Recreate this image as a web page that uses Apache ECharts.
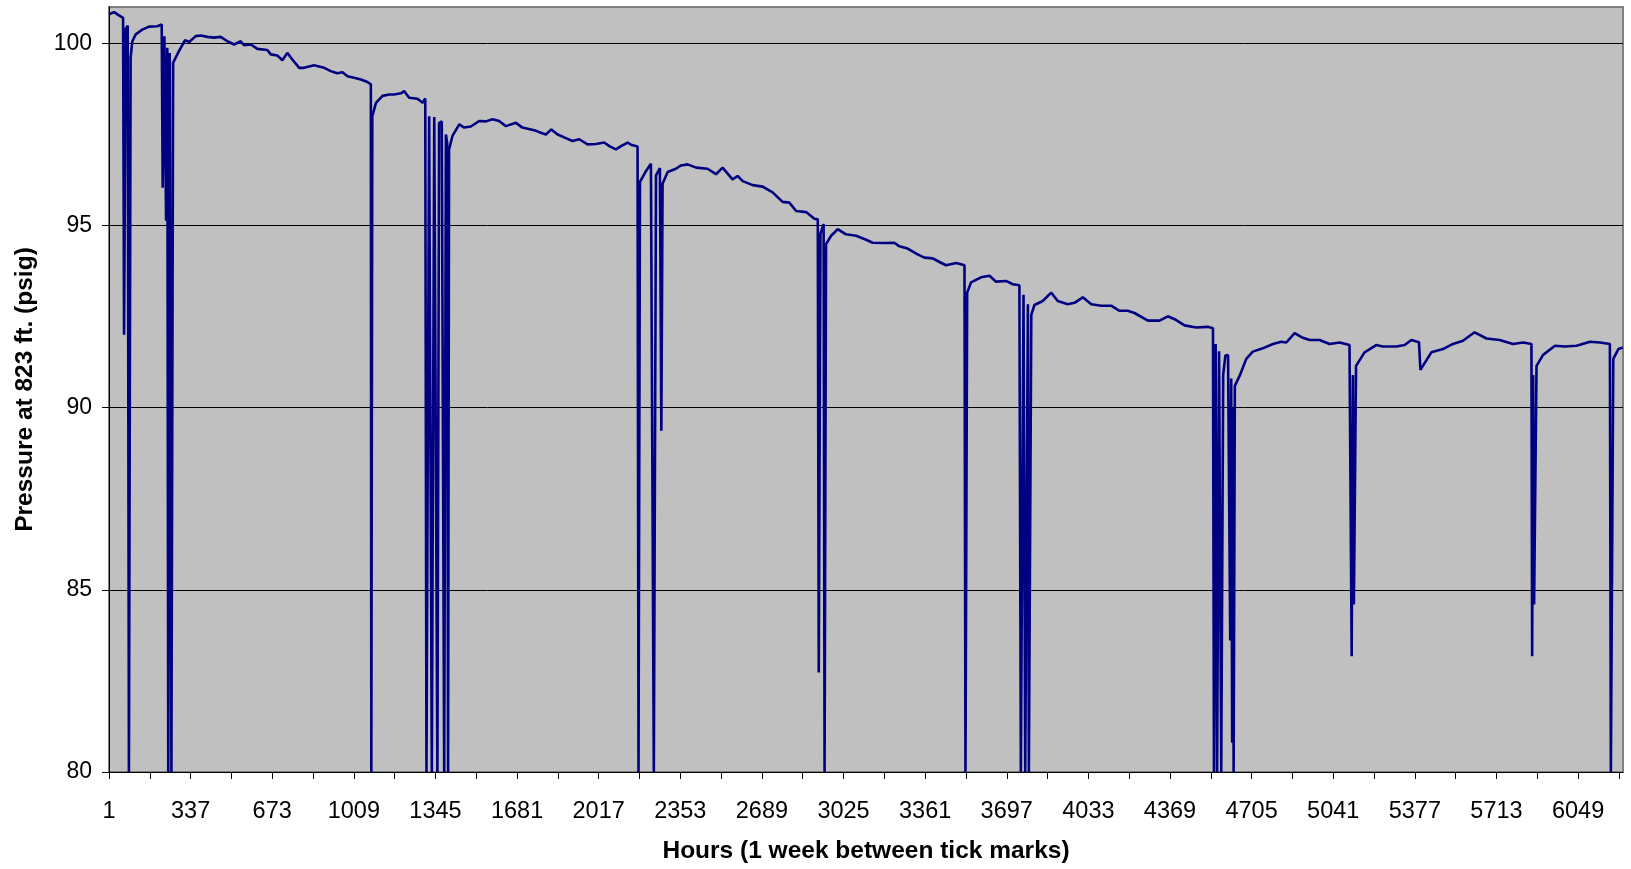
<!DOCTYPE html>
<html><head><meta charset="utf-8">
<script src="https://cdn.jsdelivr.net/npm/echarts@6/dist/echarts.min.js"></script>
<style>html,body{margin:0;padding:0;background:#fff}#c{width:1631px;height:869px}</style>
</head><body><div id="c"></div>
<script>
// [hour, pressure psig] readings, grouped by period
const period1 = [[1,100.80],[22,100.86],[42,100.77],[59,100.70],[63,92.0],[70,100.40],[78,100.49],[83,80],[84,80],[90,99.61],[97,100.06],[111,100.25],[138,100.38],[166,100.46],[200,100.47],[218,100.52],[222,96.04],[229,100.20],[236,95.13],[241,99.88],[245,80],[251,99.74],[258,80],[260,80],[265,99.47],[289,99.79],[314,100.09],[331,100.04],[358,100.20],[379,100.22],[406,100.18],[433,100.16],[461,100.18],[488,100.06],[516,99.97],[543,100.06],[557,99.95],[585,99.97],[612,99.85],[653,99.82],[667,99.70],[694,99.67],[715,99.54],[735,99.74],[756,99.56],[784,99.33],[804,99.33],[845,99.40],[887,99.33],[914,99.24],[941,99.18],[962,99.21],[983,99.10],[1010,99.06],[1038,99.01],[1065,98.94],[1079,98.88],[1081,80],[1082,80]];
const period2 = [[1085,98.00],[1100,98.37],[1127,98.56],[1154,98.60],[1175,98.60],[1203,98.63],[1216,98.69],[1237,98.51],[1271,98.48],[1292,98.37],[1303,98.49],[1308,80],[1319,98.00],[1325,98.03],[1330,80],[1340,97.98],[1348,97.95],[1353,80],[1360,97.82],[1371,97.86],[1381,80],[1388,97.50],[1393,97.28],[1397,80],[1401,97.09],[1415,97.46],[1443,97.78],[1463,97.69],[1491,97.72],[1525,97.87],[1553,97.86],[1580,97.92],[1607,97.87],[1635,97.73],[1676,97.82],[1703,97.69],[1738,97.64],[1759,97.60],[1779,97.55],[1800,97.50],[1822,97.64],[1848,97.50],[1882,97.40],[1909,97.32],[1937,97.37],[1971,97.23],[2006,97.24],[2040,97.28],[2061,97.18],[2088,97.09],[2109,97.18],[2136,97.28],[2150,97.22],[2177,97.17],[2181,80],[2182,80]];
const period3 = [[2187,96.20],[2212,96.50],[2232,96.70],[2240,96.68],[2244,80],[2253,96.38],[2269,96.58],[2275,89.37],[2280,96.15],[2301,96.47],[2335,96.56],[2356,96.65],[2383,96.68],[2418,96.59],[2465,96.56],[2500,96.41],[2527,96.59],[2568,96.27],[2589,96.36],[2610,96.22],[2651,96.11],[2692,96.07],[2733,95.91],[2774,95.65],[2802,95.63],[2830,95.40],[2871,95.37],[2905,95.19],[2919,95.17],[2923,82.73],[2930,94.78],[2943,95.04],[2947,80]];
const period4 = [[2953,94.49],[2974,94.72],[3001,94.90],[3035,94.76],[3077,94.72],[3118,94.61],[3145,94.53],[3193,94.52],[3234,94.53],[3255,94.43],[3289,94.37],[3330,94.21],[3358,94.12],[3392,94.10],[3420,94.00],[3447,93.91],[3489,93.97],[3523,93.91],[3527,80],[3528,80],[3534,93.16],[3550,93.44],[3591,93.58],[3626,93.62],[3653,93.46],[3694,93.48],[3722,93.39],[3749,93.36],[3755,80],[3766,93.10],[3773,80],[3784,92.84],[3788,80]];
const period5 = [[3798,92.55],[3811,92.82],[3845,92.93],[3880,93.16],[3907,92.93],[3948,92.84],[3976,92.88],[4010,93.03],[4045,92.84],[4086,92.80],[4127,92.80],[4161,92.66],[4195,92.66],[4223,92.60],[4278,92.39],[4326,92.39],[4360,92.51],[4388,92.43],[4429,92.26],[4477,92.20],[4525,92.22],[4546,92.18],[4550,80],[4557,91.75],[4563,80],[4571,91.55],[4580,80],[4588,90.90],[4597,91.43],[4608,91.45],[4617,83.61],[4621,90.80],[4625,80.80],[4627,90.00],[4631,80],[4633,80]];
const period6 = [[4636,90.60],[4656,90.88],[4683,91.34],[4710,91.54],[4751,91.63],[4793,91.75],[4827,91.81],[4848,91.79],[4882,92.05],[4916,91.92],[4944,91.86],[4985,91.86],[5026,91.75],[5067,91.79],[5108,91.72],[5117,83.18],[5122,90.90],[5126,84.60],[5135,91.15],[5170,91.52],[5218,91.72],[5245,91.68],[5301,91.68],[5335,91.72],[5363,91.86],[5394,91.80],[5400,91.04],[5445,91.52],[5493,91.61],[5534,91.75],[5575,91.84],[5623,92.07],[5672,91.90],[5726,91.86],[5781,91.75],[5823,91.79],[5857,91.75],[5860,83.18],[5864,90.90],[5868,84.60],[5878,91.15],[5905,91.45],[5954,91.70],[5995,91.68],[6043,91.70],[6098,91.81],[6139,91.79],[6180,91.75],[6184,80],[6186,80],[6194,91.34],[6215,91.61],[6233,91.65]];

const xTickLabels = ['1','337','673','1009','1345','1681','2017','2353','2689','3025','3361','3697','4033','4369','4705','5041','5377','5713','6049'];
const yTickLabels = [80, 85, 90, 95, 100];
const hoursPerTick = 168;
const lastHour = 6234;
const xTitle = 'Hours (1 week between tick marks)';
const yTitle = 'Pressure at 823 ft. (psig)';

const series = [].concat(period1, period2, period3, period4, period5, period6);
const tickHours = [];
for (let h = 1; h <= lastHour; h += hoursPerTick) tickHours.push(h);
const labelHours = xTickLabels.map(Number);

const FONT = "'Liberation Sans', Arial, sans-serif";
const chart = echarts.init(document.getElementById('c'), null, {renderer: 'canvas'});
chart.setOption({
  animation: false,
  backgroundColor: '#ffffff',
  grid: {
    left: 109, right: 8, top: 7, bottom: 96,
    show: true, backgroundColor: '#C0C0C0', borderColor: '#808080', borderWidth: 2
  },
  xAxis: {
    type: 'value', min: 1, max: lastHour,
    name: xTitle, nameLocation: 'middle', nameGap: 67,
    nameTextStyle: {fontFamily: FONT, fontSize: 24.5, fontWeight: 'bold', color: '#000'},
    axisLine: {show: true, lineStyle: {color: '#000', width: 1}},
    axisTick: {show: true, length: 7, lineStyle: {color: '#000'}, customValues: tickHours},
    axisLabel: {customValues: labelHours, fontFamily: FONT, fontSize: 23.5, color: '#000', margin: 28,
      formatter: v => String(v)},
    splitLine: {show: false}
  },
  yAxis: {
    type: 'value', min: 80, max: 101,
    name: yTitle, nameLocation: 'middle', nameGap: 71,
    nameTextStyle: {fontFamily: FONT, fontSize: 24.5, fontWeight: 'bold', color: '#000'},
    axisLine: {show: true, lineStyle: {color: '#000', width: 1}},
    axisTick: {show: true, length: 7, lineStyle: {color: '#000'}, customValues: yTickLabels},
    axisLabel: {customValues: yTickLabels, fontFamily: FONT, fontSize: 23, color: '#000', margin: 17},
    splitLine: {show: true, lineStyle: {color: '#000', width: 1}}
  },
  series: [{
    type: 'line', data: series, showSymbol: false, symbol: 'none',
    lineStyle: {color: '#000080', width: 2.6}, clip: true, z: 3
  }]
});
</script>
</body></html>
